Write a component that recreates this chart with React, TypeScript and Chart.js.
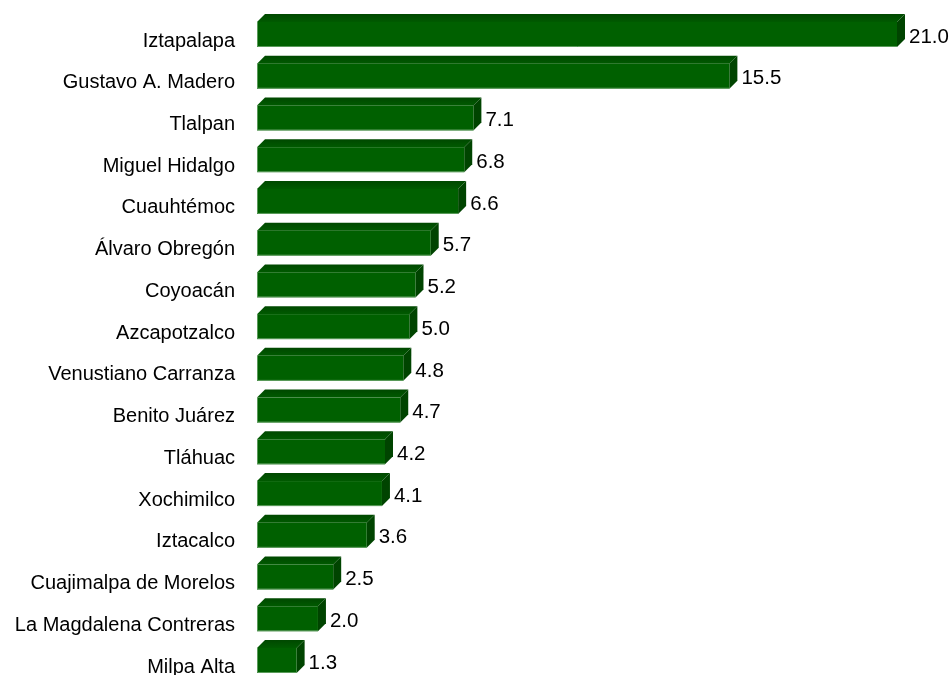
import React, { useEffect, useRef } from "react";
import { Chart, registerables } from "chart.js";

Chart.register(...registerables);

const categories: string[] = [
  "Iztapalapa",
  "Gustavo A. Madero",
  "Tlalpan",
  "Miguel Hidalgo",
  "Cuauhtémoc",
  "Álvaro Obregón",
  "Coyoacán",
  "Azcapotzalco",
  "Venustiano Carranza",
  "Benito Juárez",
  "Tláhuac",
  "Xochimilco",
  "Iztacalco",
  "Cuajimalpa de Morelos",
  "La Magdalena Contreras",
  "Milpa Alta",
];

const values: number[] = [21.0, 15.5, 7.1, 6.8, 6.6, 5.7, 5.2, 5.0, 4.8, 4.7, 4.2, 4.1, 3.6, 2.5, 2.0, 1.3];

const FONT = "'Liberation Sans', Arial, sans-serif";

const bars3d = {
  id: "bars3d",
  afterDatasetsDraw(chart: any) {
    const ctx = chart.ctx;
    const meta = chart.getDatasetMeta(0);
    const dx = 8;
    const dy = 8;
    ctx.save();
    meta.data.forEach((el: any, i: number) => {
      const x = el.x;
      const base = el.base;
      const y = el.y;
      const top = y - 19;
      const bot = y + 6;
      // top face
      const g = ctx.createLinearGradient(0, top - dy, 0, top);
      g.addColorStop(0, "#004800");
      g.addColorStop(1, "#005a00");
      ctx.fillStyle = g;
      ctx.beginPath();
      ctx.moveTo(base, top);
      ctx.lineTo(base + dx, top - dy);
      ctx.lineTo(x + dx, top - dy);
      ctx.lineTo(x, top);
      ctx.closePath();
      ctx.fill();
      // side face
      ctx.fillStyle = "#004400";
      ctx.beginPath();
      ctx.moveTo(x, top);
      ctx.lineTo(x + dx, top - dy);
      ctx.lineTo(x + dx, bot - dy);
      ctx.lineTo(x, bot);
      ctx.closePath();
      ctx.fill();
      // front face
      ctx.fillStyle = "#006000";
      ctx.fillRect(base, top, x - base, bot - top);
      ctx.strokeStyle = "rgba(120,175,120,0.75)";
      ctx.lineWidth = 1;
      ctx.beginPath();
      ctx.moveTo(base + 0.5, top);
      ctx.lineTo(base + 0.5, bot - 0.5);
      ctx.lineTo(x, bot - 0.5);
      ctx.stroke();
      // value label
      ctx.fillStyle = "#000";
      ctx.font = `20.5px ${FONT}`;
      ctx.textAlign = "left";
      ctx.textBaseline = "middle";
      ctx.fillText(values[i].toFixed(1), x + dx + 4, y - 4);
    });
    ctx.restore();
  },
};

export default function App() {
  const ref = useRef<HTMLCanvasElement | null>(null);

  useEffect(() => {
    document.body.style.margin = "0";
    const canvas = ref.current;
    if (!canvas) return;
    const chart = new Chart(canvas, {
      type: "bar",
      data: {
        labels: categories,
        datasets: [
          {
            data: values,
            backgroundColor: "rgba(0,0,0,0)",
            borderWidth: 0,
            barThickness: 25,
          },
        ],
      },
      plugins: [bars3d],
      options: {
        indexAxis: "y",
        animation: false,
        responsive: true,
        maintainAspectRatio: false,
        layout: { padding: { top: 41, bottom: 8, left: 0, right: 55 } },
        plugins: {
          legend: { display: false },
          tooltip: { enabled: false },
        },
        scales: {
          x: {
            display: false,
            min: 0,
            max: 21,
          },
          y: {
            type: "category",
            offset: false,
            grid: { display: false, drawTicks: false },
            border: { display: false },
            ticks: {
              color: "#000",
              padding: 22,
              font: { family: FONT, size: 20 },
            },
            afterFit: (scale: any) => {
              scale.width = 257;
              scale.paddingTop = 0;
              scale.paddingBottom = 0;
            },
          },
        },
      },
    });
    return () => chart.destroy();
  }, []);

  return (
    <div style={{ width: 952, height: 675, position: "relative" }}>
      <canvas ref={ref} />
    </div>
  );
}
